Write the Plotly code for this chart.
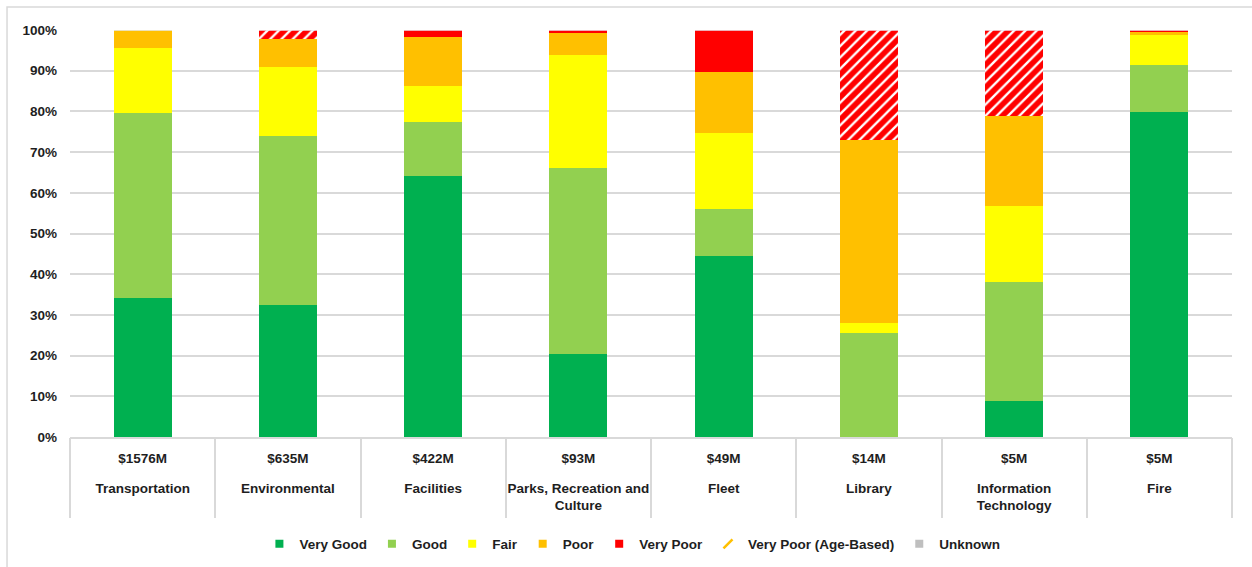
import plotly.graph_objects as go

categories = ["Transportation", "Environmental", "Facilities", "Parks, Recreation and<br>Culture",
              "Fleet", "Library", "Information<br>Technology", "Fire"]
values_label = ["$1576M", "$635M", "$422M", "$93M", "$49M", "$14M", "$5M", "$5M"]

very_good = [0.342, 0.325, 0.641, 0.204, 0.444, 0.000, 0.089, 0.799]
good      = [0.454, 0.414, 0.133, 0.457, 0.116, 0.256, 0.292, 0.114]
fair      = [0.161, 0.169, 0.088, 0.277, 0.188, 0.025, 0.187, 0.075]
poor      = [0.043, 0.070, 0.122, 0.055, 0.149, 0.449, 0.221, 0.008]
very_poor = [0.000, 0.000, 0.016, 0.007, 0.103, 0.000, 0.000, 0.004]
very_poor_age = [0.000, 0.022, 0.000, 0.000, 0.000, 0.270, 0.211, 0.000]
unknown   = [0.0] * 8

series = [
    ("Very Good", very_good, "#00B050"),
    ("Good", good, "#92D050"),
    ("Fair", fair, "#FFFF00"),
    ("Poor", poor, "#FFC000"),
    ("Very Poor", very_poor, "#FF0000"),
]

FONT = "Liberation Sans, Arial, sans-serif"
FS = 13.5
TXT = "#1E1E1E"
GRID = "#D9D9D9"

def f(size=FS):
    return dict(family=FONT, size=size, color=TXT, weight="bold")

fig = go.Figure()
n = len(categories)
xs = list(range(n))

for name, vals, col in series:
    fig.add_trace(go.Bar(x=xs, y=vals, name=name, marker=dict(color=col, line=dict(width=0)),
                         showlegend=False))
fig.add_trace(go.Bar(x=xs, y=very_poor_age, name="Very Poor (Age-Based)",
                     marker=dict(color="white", line=dict(width=0),
                                 pattern=dict(shape="/", fgcolor="#FF0000", bgcolor="white",
                                              fgopacity=1, size=8, solidity=0.7)),
                     showlegend=False))
fig.add_trace(go.Bar(x=xs, y=unknown, name="Unknown", marker=dict(color="#BFBFBF"), showlegend=False))

# legend proxies (also anchor the label / divider overlay axes)
for name, vals, col in series:
    fig.add_trace(go.Scatter(x=[None], y=[None], mode="markers", name=name, xaxis="x2",
                             marker=dict(symbol="square", size=8, color=col)))
fig.add_trace(go.Scatter(x=[None], y=[None], mode="markers", name="Very Poor (Age-Based)",
                         xaxis="x3",
                         marker=dict(symbol="line-ne", size=9, color="#FFC000",
                                     line=dict(color="#FFC000", width=2.5))))
fig.add_trace(go.Scatter(x=[None], y=[None], mode="markers", name="Unknown", xaxis="x3",
                         marker=dict(symbol="square", size=8, color="#BFBFBF")))

rng = [-0.5, n - 0.5]
fig.update_layout(
    barmode="stack",
    bargap=0.6,
    width=1252, height=567,
    margin=dict(l=70, r=20, t=30, b=130, autoexpand=False),
    paper_bgcolor="white", plot_bgcolor="white",
    font=f(),
    xaxis=dict(range=rng, tickmode="array", tickvals=xs, ticktext=values_label,
               showgrid=False, zeroline=False, showline=True, linecolor=GRID, linewidth=1.5,
               ticks="", ticklabelstandoff=8, tickangle=0, tickfont=f()),
    xaxis2=dict(type="linear", overlaying="x", anchor="y", side="bottom", range=rng,
                tickmode="array", tickvals=xs, ticktext=categories, tickangle=0,
                showgrid=False, zeroline=False, showline=False, ticks="",
                ticklabelstandoff=41, tickfont=f()),
    xaxis3=dict(type="linear", overlaying="x", anchor="y", side="bottom", range=rng,
                tickmode="array", tickvals=[i - 0.5 for i in range(n + 1)],
                showticklabels=False, showgrid=False, zeroline=False, showline=False,
                ticks="outside", ticklen=80, tickwidth=1.5, tickcolor=GRID),
    yaxis=dict(range=[0, 1], dtick=0.1, tickformat=".0%", showgrid=True, gridcolor=GRID,
               gridwidth=1.5, zeroline=False, showline=False, ticks="",
               ticklabelstandoff=12, tickfont=f()),
    legend=dict(orientation="h", x=0.484, xanchor="center",
                y=-0.263, yanchor="middle", traceorder="normal",
                font=f(), itemwidth=30, bgcolor="rgba(0,0,0,0)"),
    shapes=[dict(type="rect", xref="paper", yref="paper", x0=-0.0542, x1=1.2,
                 y0=-0.6, y1=1.0565, line=dict(color=GRID, width=1.5), layer="below")],
)

fig.write_html("out.html")
